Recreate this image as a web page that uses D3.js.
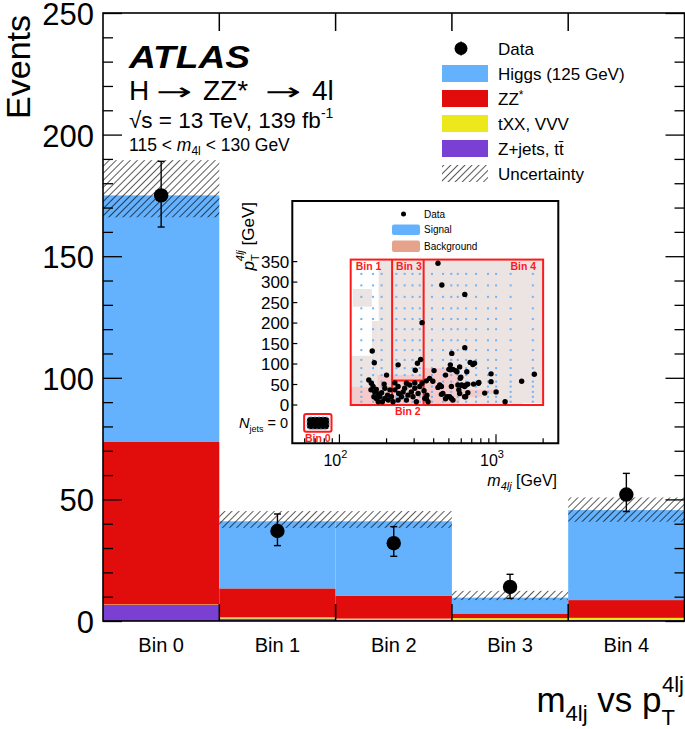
<!DOCTYPE html>
<html><head><meta charset="utf-8">
<script src="https://cdn.jsdelivr.net/npm/d3@7"></script>
<style>
html,body{margin:0;padding:0;background:#fff;}
svg{display:block;font-family:"Liberation Sans",Arial,Helvetica,sans-serif;}
</style></head>
<body><svg id="c" width="685" height="729"></svg>
<script>
// ---------------- data ----------------
const bins = ["Bin 0","Bin 1","Bin 2","Bin 3","Bin 4"];
const zjets = [6.6, 1.0, 0.6, 0.3, 0.4];
const txx   = [0.2, 0.5, 0.4, 0.9, 0.9];
const zz    = [66.8, 11.9, 9.3, 1.9, 7.3];
const higgs = [101.4, 27.6, 30.7, 6.5, 37.0];
const uncLo = [166, 38.3, 38.3, 8.6, 40.8];
const uncHi = [189.5, 45.2, 45.2, 12.4, 50.8];
const dataVals = [175, 37, 32, 14, 52];
const dataLo = [162, 31, 26.6, 9.3, 45];
const dataHi = [189, 44, 38.8, 19.2, 60.7];
const yMajor = [0, 50, 100, 150, 200, 250];
const yMinor = [10,20,30,40,60,70,80,90,110,120,130,140,160,170,180,190,210,220,230,240];

const seriesNames = ["Z+jets, tt\u0304","tXX, VVV","ZZ*","Higgs (125 GeV)"];
const seriesColors = ["#7a40d4","#ece81c","#e10c0c","#64b1fd"];

// inset data (m4lj [GeV], pT4lj [GeV])
const insetM  = [426,451,632,337,162,167,632,522,330,315,237,402,476,512,563,651,596,684,729,930,930,773,645,604,579,661,640,847,1002,1143,1459,1757,
  154,160,164,168,172,177,186,193,195,200,203,205,195,177,172,166,181,215,226,237,239,249,255,261,268,274,281,288,295,303,310,318,326,337,347,351,220,237,210,188,159,226,268,303,
  711,511,586,531,552,500,591,377,395,359,437,426,448,519,571,600,630,661,719,777,586,458,448,486,506,519,531,476,362,359,368,630,305];
const insetPt = [346,293,270,201,132,103,140,126,111,102,98,84,73,86,81,81,68,104,102,76,57,53,49,49,37,30,20,29,32,8,58,75,
  61,53,45,32,38,27,30,51,41,73,24,12,16,8,16,20,20,20,37,45,28,20,32,41,12,24,49,32,20,41,8,28,45,53,35,16,8,12,37,8,37,54,53,54,
  99,98,93,87,84,87,65,65,58,59,49,43,45,45,49,48,45,51,51,55,28,28,26,20,20,16,12,15,24,15,8,20,85];
const insetTicksY = [0,50,100,150,200,250,300,350];
const insetMinorX = [60,70,80,90,200,300,400,500,600,700,800,900,2000];
const insetMajorX = [100,1000];
const insetExpLabels = ["2","3"];
// 2D histogram cells: [m0, m1, pT0, pT1, kind]
const bgCells = [
  [178,2000,0,355,"bg"],[161,178,0,205,"bg"],[118,161,0,120,"bg"],[122,161,240,283,"bg"],
  [118,175,0,44,"hi"],[175,340,0,73,"hi"],[340,585,0,90,"hi"],[585,820,20,37,"hi"],[790,1000,27,37,"hi"],
  [1470,1950,0,5,"white"]
];
const sigCols = [138,164,186,231,261,293,326,390,459,518,570,645,746,889,1002,1240,1720];
const sigRows = [320,292,264,236,210,185,158,134,110,90,73,57,45,32,20,8];
const regionBox = {m0:118, m1:2000, p0:0, p1:355};
const regionSplits = {mA:217, mB:345, pMid:60};
const bin0Box = {m0:59.5, m1:89, p0:-22, p1:-65};
const bin0Blob = {m0:62, m1:86, p0:-29, p1:-59};

// ---------------- drawing ----------------
const svg = d3.select("#c");
const L = 103, R = 684.5, T = 13, B = 621;
const x = d3.scaleBand().domain(bins).range([L, R]).paddingInner(0).paddingOuter(0);
const y = d3.scaleLinear().domain([0, 250]).range([B, T]);

const defs = svg.append("defs");
const pat = defs.append("pattern").attr("id","hatch").attr("patternUnits","userSpaceOnUse")
  .attr("width",5).attr("height",5).attr("patternTransform","rotate(45)");
pat.append("line").attr("x1",0).attr("y1",0).attr("x2",0).attr("y2",5).attr("stroke","#000").attr("stroke-width",1.3);
defs.append("clipPath").attr("id","plotclip").append("rect").attr("x",L).attr("y",T).attr("width",R-L).attr("height",B-T);

const rows = bins.map((b,i)=>({bin:b, s0:zjets[i], s1:txx[i], s2:zz[i], s3:higgs[i]}));
const stack = d3.stack().keys(["s0","s1","s2","s3"])(rows);

const gBars = svg.append("g").attr("clip-path","url(#plotclip)");
stack.forEach((layer, k)=>{
  gBars.selectAll(null).data(layer).enter().append("rect")
    .attr("x", d=>x(d.data.bin)).attr("width", x.bandwidth())
    .attr("y", d=>y(d[1])).attr("height", d=>Math.max(0, y(d[0])-y(d[1])))
    .attr("fill", seriesColors[k]);
});
// uncertainty
gBars.selectAll(null).data(bins).enter().append("rect")
  .attr("x", b=>x(b)).attr("width", x.bandwidth())
  .attr("y", (b,i)=>y(uncHi[i])).attr("height",(b,i)=>y(uncLo[i])-y(uncHi[i]))
  .attr("fill","url(#hatch)");

// axes
const gAx = svg.append("g");
const leftMaj = d3.axisLeft(y).tickValues(yMajor).tickSizeInner(-19).tickSizeOuter(0).tickPadding(9).tickFormat(d3.format("d"));
const ga = gAx.append("g").attr("transform",`translate(${L},0)`).call(leftMaj);
ga.selectAll("text").attr("font-size",31).attr("font-family","Liberation Sans, Arial, sans-serif").attr("fill","#000").attr("dy","0.37em");
ga.select(".domain").remove();
ga.selectAll("line").attr("stroke","#000").attr("stroke-width",1.3);
const gm = gAx.append("g").attr("transform",`translate(${L},0)`).call(d3.axisLeft(y).tickValues(yMinor).tickSizeInner(-10).tickSizeOuter(0).tickFormat(""));
gm.select(".domain").remove(); gm.selectAll("line").attr("stroke","#000").attr("stroke-width",1.3);
const gr = gAx.append("g").attr("transform",`translate(${R},0)`).call(d3.axisRight(y).tickValues(yMajor).tickSizeInner(-19).tickSizeOuter(0).tickFormat(""));
gr.select(".domain").remove(); gr.selectAll("line").attr("stroke","#000").attr("stroke-width",1.3);
const grm = gAx.append("g").attr("transform",`translate(${R},0)`).call(d3.axisRight(y).tickValues(yMinor).tickSizeInner(-10).tickSizeOuter(0).tickFormat(""));
grm.select(".domain").remove(); grm.selectAll("line").attr("stroke","#000").attr("stroke-width",1.3);

// x bin boundaries ticks
const bounds = bins.slice(1).map(b=>x(b));
svg.selectAll(null).data(bounds).enter().append("line")
  .attr("x1",d=>d).attr("x2",d=>d).attr("y1",B).attr("y2",B-17).attr("stroke","#000").attr("stroke-width",1.5);
svg.selectAll(null).data(bounds).enter().append("line")
  .attr("x1",d=>d).attr("x2",d=>d).attr("y1",T).attr("y2",T+18).attr("stroke","#000").attr("stroke-width",1.5);
// bin labels
svg.selectAll(null).data(bins).enter().append("text")
  .attr("x",b=>x(b)+x.bandwidth()/2).attr("y",652).attr("text-anchor","middle")
  .attr("font-size",20).text(b=>b);

// frame
svg.append("rect").attr("x",L).attr("y",T).attr("width",R-L).attr("height",B-T)
  .attr("fill","none").attr("stroke","#000").attr("stroke-width",1.6);

// data points
const gD = svg.append("g");
bins.forEach((b,i)=>{
  const cx = x(b)+x.bandwidth()/2;
  gD.append("line").attr("x1",cx).attr("x2",cx).attr("y1",y(dataLo[i])).attr("y2",y(dataHi[i])).attr("stroke","#000").attr("stroke-width",1.4);
  [dataLo[i],dataHi[i]].forEach(v=>gD.append("line").attr("x1",cx-3.5).attr("x2",cx+3.5).attr("y1",y(v)).attr("y2",y(v)).attr("stroke","#000").attr("stroke-width",1.4));
  gD.append("circle").attr("cx",cx).attr("cy",y(dataVals[i])).attr("r",7.2).attr("fill","#000");
});

// y title
svg.append("text").attr("transform","translate(30,15) rotate(-90)").attr("text-anchor","end")
  .attr("font-size",34).text("Events");

// x title
const xt = svg.append("text").attr("x",684).attr("y",712).attr("text-anchor","end").attr("font-size",35);
xt.append("tspan").text("m");
xt.append("tspan").attr("font-size",22).attr("dy",9).text("4lj");
xt.append("tspan").attr("dy",-9).text(" vs p");
xt.append("tspan").attr("font-size",22).attr("dy",13).text("T");
xt.append("tspan").attr("font-size",22).attr("dx",-13).attr("dy",-33).text("4lj");

// ATLAS text block
svg.append("text").attr("x",129).attr("y",68).attr("font-size",32).attr("font-weight","bold").attr("font-style","italic")
  .attr("textLength",121).attr("lengthAdjust","spacingAndGlyphs").text("ATLAS");
const hParts = [
  {t:"H", x:129, sx:1, f:"Liberation Sans, Arial, sans-serif"},
  {t:"\u2192", x:156, sx:1.8, f:"DejaVu Sans, sans-serif"},
  {t:"ZZ*", x:203, sx:1, f:"Liberation Sans, Arial, sans-serif"},
  {t:"\u2192", x:265, sx:1.8, f:"DejaVu Sans, sans-serif"},
  {t:"4l", x:312, sx:1, f:"Liberation Sans, Arial, sans-serif"}
];
hParts.forEach(p=>{
  svg.append("text").attr("transform",`translate(${p.x},100) scale(${p.sx},1)`).attr("font-family",p.f)
    .attr("font-size",p.sx>1?24:28).text(p.t);
});
const sq = svg.append("text").attr("x",129).attr("y",128).attr("font-size",22.5);
sq.append("tspan").text("\u221As = 13 TeV, 139 fb");
sq.append("tspan").attr("font-size",14).attr("dy",-10).text("-1");
const mt = svg.append("text").attr("x",129).attr("y",151).attr("font-size",17.5);
mt.append("tspan").text("115 < ");
mt.append("tspan").attr("font-style","italic").text("m");
mt.append("tspan").attr("font-size",12).attr("dy",4).text("4l");
mt.append("tspan").attr("dy",-4).text(" < 130 GeV");

// legend
const lg = svg.append("g");
const lx0 = 442, lx1 = 488, ltx = 498, lrow = 25, ly0 = 48.5;
lg.append("line").attr("x1",461).attr("x2",461).attr("y1",ly0-7).attr("y2",ly0+7).attr("stroke","#000").attr("stroke-width",1.4);
lg.append("circle").attr("cx",461).attr("cy",ly0).attr("r",6.5).attr("fill","#000");
lg.append("text").attr("x",ltx).attr("y",ly0+6).attr("font-size",17).text("Data");
const legItems = [
  {name:seriesNames[3], fill:seriesColors[3]},
  {name:seriesNames[2], fill:seriesColors[2]},
  {name:seriesNames[1], fill:seriesColors[1]},
  {name:seriesNames[0], fill:seriesColors[0]},
  {name:"Uncertainty", fill:"url(#hatch)"}
];
legItems.forEach((it,i)=>{
  const cy = ly0 + lrow*(i+1);
  lg.append("rect").attr("x",lx0).attr("y",cy-8.5).attr("width",lx1-lx0).attr("height",17).attr("fill",it.fill);
  const t = lg.append("text").attr("x",ltx).attr("y",cy+6).attr("font-size",17);
  if (it.name === "ZZ*") { t.append("tspan").text("ZZ"); t.append("tspan").attr("font-size",12).attr("dy",-6).text("*"); }
  else t.text(it.name);
});

// ---------------- inset ----------------
const iL = 292.3, iR = 558.3, iT = 201, iB = 443.3;
const ix = d3.scaleLog().domain([50, 2500]).range([iL, iR]);
const iy = d3.scaleLinear().domain([-93.5, 498]).range([iB, iT]);
const gi = svg.append("g");
gi.append("rect").attr("x",iL).attr("y",iT).attr("width",iR-iL).attr("height",iB-iT).attr("fill","#fff");
defs.append("clipPath").attr("id","iclip").append("rect").attr("x",iL).attr("y",iT).attr("width",iR-iL).attr("height",iB-iT);
const gic = gi.append("g").attr("clip-path","url(#iclip)");
const cellColor = {bg:"#ece3e3", hi:"#f4caca", white:"#ffffff"};
gic.selectAll(null).data(bgCells).enter().append("rect")
  .attr("x",d=>ix(d[0])).attr("width",d=>ix(d[1])-ix(d[0]))
  .attr("y",d=>iy(d[3])).attr("height",d=>iy(d[2])-iy(d[3]))
  .attr("fill",d=>cellColor[d[4]]);
const sigPts = [];
sigCols.forEach(m=>sigRows.forEach(p=>sigPts.push([m,p])));
gic.selectAll(null).data(sigPts).enter().append("rect")
  .attr("x",d=>ix(d[0])-1).attr("y",d=>iy(d[1])-1).attr("width",2).attr("height",2).attr("fill","#74b4f4");
// region boxes
const rs = "#ff1a1a";
gic.append("rect").attr("x",ix(regionBox.m0)).attr("y",iy(regionBox.p1))
  .attr("width",ix(regionBox.m1)-ix(regionBox.m0)).attr("height",iy(regionBox.p0)-iy(regionBox.p1))
  .attr("fill","none").attr("stroke",rs).attr("stroke-width",2);
[regionSplits.mA, regionSplits.mB].forEach(m=>gic.append("line").attr("x1",ix(m)).attr("x2",ix(m))
  .attr("y1",iy(regionBox.p1)).attr("y2",iy(regionBox.p0)).attr("stroke",rs).attr("stroke-width",2));
gic.append("line").attr("x1",ix(regionSplits.mA)).attr("x2",ix(regionSplits.mB))
  .attr("y1",iy(regionSplits.pMid)).attr("y2",iy(regionSplits.pMid)).attr("stroke",rs).attr("stroke-width",2);
// bin 0
gic.append("rect").attr("x",ix(bin0Blob.m0)).attr("y",iy(bin0Blob.p0)).attr("width",ix(bin0Blob.m1)-ix(bin0Blob.m0))
  .attr("height",iy(bin0Blob.p1)-iy(bin0Blob.p0)).attr("rx",3).attr("fill","#000").attr("stroke","#74b4f4").attr("stroke-width",1).attr("stroke-dasharray","2,2");
gic.append("rect").attr("x",ix(bin0Box.m0)).attr("y",iy(bin0Box.p0)).attr("width",ix(bin0Box.m1)-ix(bin0Box.m0))
  .attr("height",iy(bin0Box.p1)-iy(bin0Box.p0)).attr("rx",2).attr("fill","none").attr("stroke",rs).attr("stroke-width",2);
// scatter
gic.selectAll(null).data(insetM).enter().append("circle")
  .attr("cx",(m)=>ix(m)).attr("cy",(m,i)=>iy(insetPt[i])).attr("r",2.7).attr("fill","#000");
// bin labels
const bl = [
  {t:"Bin 1", m:regionBox.m0, p:regionBox.p1, a:"start", dx:5, dy:10.5},
  {t:"Bin 3", m:regionSplits.mA, p:regionBox.p1, a:"start", dx:4, dy:10.5},
  {t:"Bin 4", m:regionBox.m1, p:regionBox.p1, a:"end", dx:-7, dy:10.5},
  {t:"Bin 2", m:Math.sqrt(regionSplits.mA*regionSplits.mB), p:regionBox.p0, a:"middle", dx:0, dy:10},
  {t:"Bin 0", m:Math.sqrt(bin0Box.m0*bin0Box.m1), p:bin0Box.p1, a:"middle", dx:0, dy:10}
];
gi.selectAll(null).data(bl).enter().append("text")
  .attr("x",d=>ix(d.m)+d.dx).attr("y",d=>iy(d.p)+d.dy).attr("text-anchor",d=>d.a)
  .attr("font-size",10.5).attr("font-weight","bold").attr("fill",rs).text(d=>d.t);
// inset legend
gi.append("circle").attr("cx",403.5).attr("cy",214).attr("r",2.5).attr("fill","#000");
gi.append("text").attr("x",424).attr("y",217.5).attr("font-size",10).text("Data");
gi.append("rect").attr("x",392).attr("y",224.5).attr("width",28).attr("height",10.5).attr("rx",2).attr("fill","#64b1fd");
gi.append("text").attr("x",424).attr("y",233).attr("font-size",10).text("Signal");
gi.append("rect").attr("x",392).attr("y",240.5).attr("width",28).attr("height",11.5).attr("rx",2).attr("fill","#e6a38b");
gi.append("text").attr("x",424).attr("y",249.5).attr("font-size",10).text("Background");
// inset axes
gi.append("path").attr("d",`M${iL},${iT}H${iR}V${iB}H${iL}Z`).attr("fill","none").attr("stroke","#000").attr("stroke-width",2);
gi.selectAll(null).data(insetTicksY).enter().append("line")
  .attr("x1",iL).attr("x2",iL+5).attr("y1",d=>iy(d)).attr("y2",d=>iy(d)).attr("stroke","#000").attr("stroke-width",1.2);
gi.selectAll(null).data(insetTicksY).enter().append("text")
  .attr("x",iL-3).attr("y",d=>iy(d)+6).attr("text-anchor","end").attr("font-size",17).text(d=>d);
gi.selectAll(null).data(insetMinorX).enter().append("line")
  .attr("x1",d=>ix(d)).attr("x2",d=>ix(d)).attr("y1",iB).attr("y2",iB-5).attr("stroke","#000").attr("stroke-width",1.2);
gi.selectAll(null).data(insetMajorX).enter().append("line")
  .attr("x1",d=>ix(d)).attr("x2",d=>ix(d)).attr("y1",iB).attr("y2",iB-9).attr("stroke","#000").attr("stroke-width",1.2);
insetMajorX.forEach((v,i)=>{
  const t = gi.append("text").attr("x",ix(v)-4).attr("y",466).attr("text-anchor","middle").attr("font-size",16);
  t.append("tspan").text("10");
  t.append("tspan").attr("font-size",11).attr("dy",-8).text(insetExpLabels[i]);
});
const imx = gi.append("text").attr("x",557).attr("y",486).attr("text-anchor","end").attr("font-size",16);
imx.append("tspan").attr("font-style","italic").text("m");
imx.append("tspan").attr("font-style","italic").attr("font-size",11).attr("dy",4).text("4lj");
imx.append("tspan").attr("dy",-4).text(" [GeV]");
const imy = gi.append("text").attr("transform","translate(254,202) rotate(-90)").attr("text-anchor","end").attr("font-size",17);
imy.append("tspan").attr("font-style","italic").text("p");
imy.append("tspan").attr("font-size",11).attr("dy",5).text("T");
imy.append("tspan").attr("font-size",11).attr("font-style","italic").attr("dx",-7).attr("dy",-15).text("4lj");
imy.append("tspan").attr("dy",10).text(" [GeV]");
const nj = gi.append("text").attr("x",288).attr("y",428).attr("text-anchor","end").attr("font-size",14.5);
nj.append("tspan").attr("font-style","italic").text("N");
nj.append("tspan").attr("font-size",9).attr("dy",4).text("jets");
nj.append("tspan").attr("dy",-4).text(" = 0");
</script></body></html>
